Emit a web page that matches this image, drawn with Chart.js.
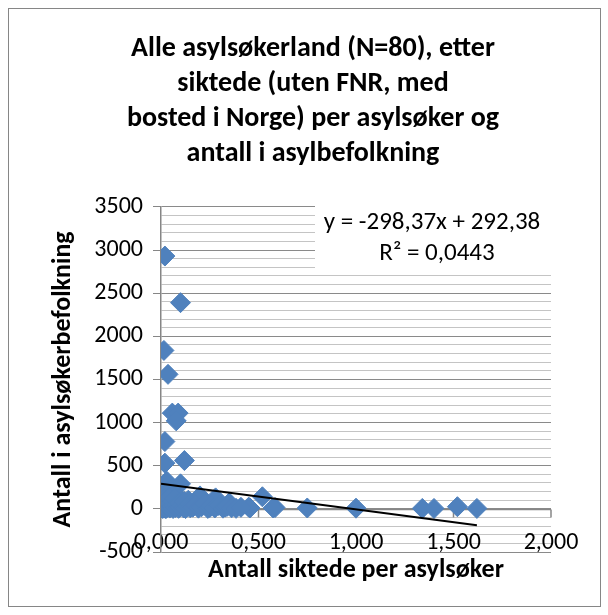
<!DOCTYPE html>
<html lang="no">
<head>
<meta charset="UTF-8">
<title>Asylsøkerland</title>
<script src="https://cdn.jsdelivr.net/npm/chart.js"></script>
<style>
  html, body { margin: 0; padding: 0; background: #fff; }
  #wrap { position: relative; width: 608px; height: 615px; }
</style>
</head>
<body>
<div id="wrap"><canvas id="myChart" width="608" height="615"></canvas></div>
<script>
// siktede per asylsøker (x) og antall i asylbefolkning (y), 80 land
const siktedePerAsylsoker = [
  0.02, 0.10, 0.015, 0.036, 0.058, 0.088, 0.078, 0.02, 0.02, 0.12,
  0.03, 0.10, 0.005, 0.20, 0.28, 0.52, 0.35, 0.45, 0.585, 0.456,
  0.575, 0.75, 1.00, 1.34, 1.40, 1.52, 1.62, 0.05, 0.07, 0.14,
  0.17, 0.000, 0.003, 0.006, 0.008, 0.010, 0.013, 0.015, 0.017, 0.021,
  0.025, 0.030, 0.033, 0.035, 0.040, 0.045, 0.050, 0.056, 0.060, 0.062,
  0.068, 0.070, 0.075, 0.082, 0.090, 0.095, 0.098, 0.107, 0.116, 0.120,
  0.126, 0.137, 0.145, 0.150, 0.163, 0.178, 0.192, 0.208, 0.225, 0.240,
  0.250, 0.258, 0.276, 0.296, 0.318, 0.330, 0.340, 0.362, 0.385, 0.410
];
const antallAsylbefolkning = [
  2930, 2390, 1836, 1559, 1110, 1110, 1020, 780, 530, 560,
  320, 290, 175, 150, 127, 140, 70, 20, 15, 10,
  10, 10, 8, 5, 5, 25, 5, 220, 180, 100,
  60, 12, 95, 40, 5, 140, 60, 8, 110, 30,
  2, 75, 18, 45, 130, 9, 55, 25, 88, 4,
  35, 120, 15, 50, 6, 70, 20, 40, 10, 85,
  3, 30, 55, 12, 20, 45, 8, 25, 60, 5,
  15, 35, 10, 40, 8, 20, 30, 12, 6, 18
];
// lineær trendlinje fra Excel
const trendSlope = -298.37;
const trendIntercept = 292.38;
const trendLabel = ['y = -298,37x + 292,38', 'R² = 0,0443'];

const titleLines = [
  'Alle asylsøkerland (N=80), etter',
  'siktede (uten FNR, med',
  'bosted i Norge) per asylsøker og',
  'antall i asylbefolkning'
];

const FONT = 'Carlito, Lato, sans-serif';
const AXIS_GREY = '#868686';

const points = siktedePerAsylsoker.map((x, i) => ({ x: x, y: antallAsylbefolkning[i] }));
const maxX = Math.max(...siktedePerAsylsoker);
const trend = [
  { x: 0, y: trendIntercept },
  { x: maxX, y: trendSlope * maxX + trendIntercept }
];

// ramme, x-akse ved y=0 og etikett for trendlinjen
const decor = {
  id: 'decor',
  beforeDraw(chart) {
    const c = chart.ctx;
    c.save();
    c.fillStyle = '#fff';
    c.fillRect(0, 0, chart.width, chart.height);
    c.strokeStyle = AXIS_GREY;
    c.lineWidth = 1;
    c.strokeRect(8.5, 8.5, 592, 598);
    c.restore();
  },
  beforeDatasetsDraw(chart) {
    const c = chart.ctx;
    const xs = chart.scales.x, ys = chart.scales.y;
    const y0 = Math.round(ys.getPixelForValue(0)) + 0.5;
    c.save();
    c.strokeStyle = AXIS_GREY;
    c.lineWidth = 1.5;
    c.beginPath();
    c.moveTo(xs.left, y0);
    c.lineTo(xs.right, y0);
    xs.ticks.forEach(t => {
      const px = xs.getPixelForValue(t.value);
      c.moveTo(px, y0);
      c.lineTo(px, y0 + 8);
    });
    c.stroke();

    // hvit boks bak ligningen
    c.fillStyle = '#fff';
    c.fillRect(315, 199, chart.chartArea.right - 315 + 2, 73);
    c.fillStyle = '#000';
    c.font = '25px ' + FONT;
    c.textAlign = 'center';
    c.textBaseline = 'middle';
    c.fillText(trendLabel[0], 432, 223);
    c.fillText(trendLabel[1], 437, 254);
    c.restore();
  }
};

new Chart(document.getElementById('myChart'), {
  type: 'scatter',
  data: {
    datasets: [
      {
        label: 'trend',
        type: 'line',
        data: trend,
        borderColor: '#000',
        borderWidth: 2,
        pointRadius: 0,
        fill: false,
        order: 0
      },
      {
        label: 'land',
        data: points,
        pointStyle: 'rectRot',
        pointRadius: 10,
        backgroundColor: '#4F81BD',
        borderColor: '#4F81BD',
        borderWidth: 1,
        order: 1
      }
    ]
  },
  options: {
    responsive: false,
    animation: false,
    layout: { padding: { left: 26, right: 8, top: 8, bottom: 8 } },
    plugins: {
      legend: { display: false },
      tooltip: { enabled: false },
      title: {
        display: true,
        text: titleLines,
        color: '#000',
        font: { family: FONT, size: 28, weight: 'bold', lineHeight: 1.24 },
        padding: { top: 24, bottom: 36 }
      }
    },
    scales: {
      x: {
        type: 'linear',
        min: 0,
        max: 2,
        grid: { display: false, drawTicks: false },
        border: { display: false },
        ticks: {
          stepSize: 0.5,
          mirror: true,
          padding: -5,
          color: '#000',
          font: { family: FONT, size: 24 },
          callback: v => v.toFixed(3).replace('.', ',')
        },
        title: {
          display: true,
          text: 'Antall siktede per asylsøker',
          color: '#000',
          font: { family: FONT, size: 26, weight: 'bold' },
          padding: { top: 0, bottom: 21 }
        },
        afterFit: s => { s.height = 55; s.paddingRight = 57; }
      },
      y: {
        type: 'linear',
        min: -500,
        max: 3500,
        border: { display: true, color: AXIS_GREY, width: 1.5 },
        grid: {
          tickLength: 8,
          lineWidth: 1,
          color: ctx => (ctx.tick && ctx.tick.value % 500 === 0) ? '#8a8a8a' : '#c4c4c4',
          tickColor: ctx => (ctx.tick && ctx.tick.value % 500 === 0) ? AXIS_GREY : 'rgba(0,0,0,0)'
        },
        ticks: {
          stepSize: 100,
          autoSkip: false,
          padding: 10,
          color: '#000',
          font: { family: FONT, size: 24 },
          callback: v => (v % 500 === 0 ? String(v) : '')
        },
        title: {
          display: true,
          text: 'Antall i asylsøkerbefolkning',
          color: '#000',
          font: { family: FONT, size: 26, weight: 'bold' },
          padding: { top: 22, bottom: 0 }
        },
        afterFit: s => { s.width = 135; }
      }
    }
  },
  plugins: [decor]
});
</script>
</body>
</html>
